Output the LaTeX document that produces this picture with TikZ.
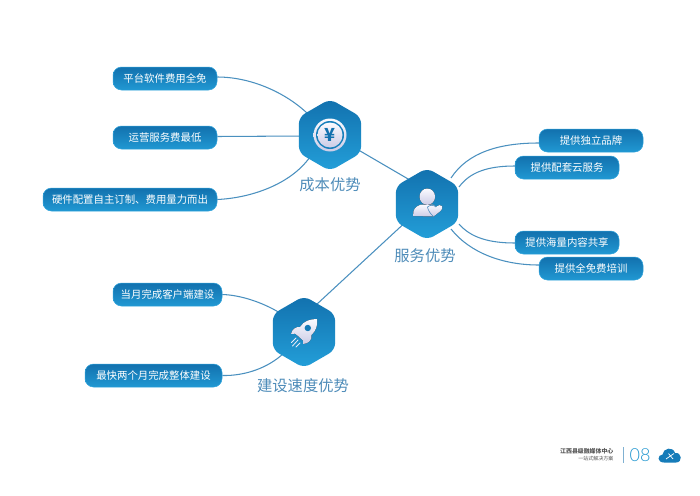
\documentclass[tikz,border=0pt]{standalone}
\usepackage{fontspec}
\setmainfont{Noto Sans CJK SC}
\newfontfamily\latnfont{Lato Light}
\usetikzlibrary{shapes.geometric,backgrounds}
\definecolor{gtop}{HTML}{1271AE}
\definecolor{gbot}{HTML}{239FD9}
\definecolor{pedge}{HTML}{2FA3DB}
\definecolor{lnk}{HTML}{4A90BF}
\definecolor{lbl}{HTML}{4E8CB9}
\definecolor{icontop}{HTML}{FAFAFF}
\definecolor{iconbot}{HTML}{CCCCE6}
\definecolor{foot}{HTML}{555555}
\tikzset{
  pill/.style={rounded corners=8.5pt,draw=pedge,line width=0.5pt,top color=gtop,bottom color=gbot!85!gtop,
    minimum height=23pt,inner sep=0pt,text=white,font=\fontsize{10.4pt}{12pt}\selectfont},
  hex/.style={regular polygon,regular polygon sides=6,regular polygon rotate=30,minimum size=72pt,inner sep=0pt,
    rounded corners=7pt,top color=gtop,bottom color=gbot},
  title/.style={text=lbl,inner sep=0pt,font=\fontsize{15.3pt}{18pt}\selectfont},
  link/.style={draw=lnk,line width=1.05pt},
  iconfill/.style={top color=icontop,bottom color=iconbot}
}
\begin{document}
\begin{tikzpicture}[x=1pt,y=-1pt]
\useasboundingbox (0,0) rectangle (700,495);
% hexagons
\node[hex] (cost) at (330,135) {};
\node[hex] (serv) at (427,204) {};
\node[hex] (speed) at (304,332) {};
% titles
\node[title] (tcost) at (330,184.5) {成本优势};
\node[title] (tserv) at (425,255.5) {服务优势};
\node[title] (tspeed) at (303,385.5) {建设速度优势};
% pills
\node[pill,minimum width=104pt] (p1) at (165,78.5) {平台软件费用全免};
\node[pill,minimum width=104pt] (p2) at (165,137.5) {运营服务费最低};
\node[pill,minimum width=174pt] (p3) at (130,199.5) {硬件配置自主订制、费用量力而出};
\node[pill,minimum width=104pt] (r1) at (591,140.5) {提供独立品牌};
\node[pill,minimum width=104pt] (r2) at (567,167.5) {提供配套云服务};
\node[pill,minimum width=104pt] (r3) at (567,242.5) {提供海量内容共享};
\node[pill,minimum width=104pt] (r4) at (591,268.5) {提供全免费培训};
\node[pill,minimum width=109pt] (s1) at (167.5,294.5) {当月完成客户端建设};
\node[pill,minimum width=137pt] (s2) at (153.5,375.5) {最快两个月完成整体建设};
% connector ends on hexagon borders
\coordinate (c1) at (308,114);
\coordinate (c2) at (305,136);
\coordinate (c3) at (310,157);
\coordinate (c4) at (355,148);
\coordinate (c5) at (415,183);
\coordinate (c6) at (410,218);
\coordinate (c7) at (316,305);
\coordinate (d1) at (451,178);
\coordinate (d2) at (459,187);
\coordinate (d3) at (459,224);
\coordinate (d4) at (451,229);
\coordinate (e1) at (280,313);
\coordinate (e2) at (284,353);
\begin{scope}[on background layer]
\fill[white] (0,0) rectangle (700,495);
\draw[link] (p1.east) ++(0,-1.5) .. controls +(33,0) and (285,92) .. (c1);
\draw[link] (p2.east) ++(0,-1) -- (c2);
\draw[link] (p3.east) .. controls (250,198) and (290,185) .. (c3);
\draw[link] (c4) -- (c5);
\draw[link] (c6) -- (c7);
\draw[link] (r1.west) ++(0,2.5) .. controls (500,143) and (468,152) .. (d1);
\draw[link] (r2.west) ++(0,-1.5) .. controls (488,166) and (470,172) .. (d2);
\draw[link] (r3.west) ++(0,0.5) .. controls (490,243) and (471,238) .. (d3);
\draw[link] (r4.west) ++(0,-3.5) .. controls (503,265) and (470,253) .. (d4);
\draw[link] (s1.east) .. controls (240,295) and (262,302) .. (e1);
\draw[link] (s2.east) .. controls (245,376) and (268,368) .. (e2);
\end{scope}
% yen icon
\node[circle,iconfill,minimum size=33pt,inner sep=0pt] (yenouter) at (330,135) {};
\node[circle,fill=gtop!70!gbot,minimum size=28pt,inner sep=0pt] (yenring) at (330,135) {};
\node[circle,iconfill,minimum size=25pt,inner sep=0pt,text=gtop,font=\fontsize{18pt}{18pt}\selectfont\bfseries] (yen) at (330,135) {¥};
% person icon
\fill[iconfill] (413.2,216) .. controls (412.5,210) and (415,206.5) .. (421,204.5)
  -- (433,204.5) -- (436,206.8) .. controls (438,205) and (441,204.5) .. (442,206)
  .. controls (443,208) and (442,210) .. (440,211.5)
  -- (433.5,216.5) -- cycle;
\fill[iconfill] (427.3,196.7) ellipse (7.8pt and 8.2pt);
\draw[gtop!70!iconbot,line width=0.6pt] (427.5,207) .. controls (428,210) and (430,213.5) .. (433.5,216.5);
\draw[gtop!70!iconbot,line width=0.6pt] (427.5,207) .. controls (430,204.5) and (434,205) .. (436,207);
% rocket icon
\fill[iconfill] (317,319) .. controls (310,319) and (303.5,321) .. (300,327)
  .. controls (296,326.5) and (292,329) .. (291,334)
  .. controls (294,333) and (296.5,333.5) .. (298,336)
  -- (303,340.5)
  .. controls (303.5,342) and (303.5,343) .. (303,344)
  .. controls (308,344) and (312.5,340) .. (311.5,335)
  .. controls (316,331) and (318,325) .. (317,319) -- cycle;
\fill[gtop!80!gbot] (307.8,328) circle (3.2pt);
\draw[icontop!70!iconbot,line width=0.8pt,line cap=round] (296,338) -- (291.5,342.5);
\draw[icontop!70!iconbot,line width=0.8pt,line cap=round] (298,340) -- (292.5,346);
\draw[icontop!70!iconbot,line width=0.8pt,line cap=round] (300,343) -- (296,347);
% footer
\node[inner sep=0pt,anchor=east,text=foot,font=\fontsize{5.9pt}{7pt}\selectfont\bfseries] (ft1) at (613.5,451.5) {江西县级融媒体中心};
\node[inner sep=0pt,anchor=east,text=foot,font=\fontsize{5pt}{6pt}\selectfont] (ft2) at (613.5,458.5) {一站式解决方案};
\draw[lnk!70!white,line width=0.6pt] (623,447) -- (623,463);
\node[inner sep=0pt,text=gbot!80!gtop,font=\fontsize{18pt}{20pt}\selectfont\latnfont] (pg) at (640,455) {08};
\fill[gtop!75!gbot] (664,462.5) .. controls (657,462.5) and (657,455) .. (662.5,454.5)
  .. controls (663,448) and (673,446) .. (675,453)
  .. controls (682,452) and (683,462.5) .. (676,462.5) -- cycle;
\draw[white,line width=0.7pt] (666,459) -- (674,453.5) (668.5,453.5) -- (673,459);
\end{tikzpicture}
\end{document}
